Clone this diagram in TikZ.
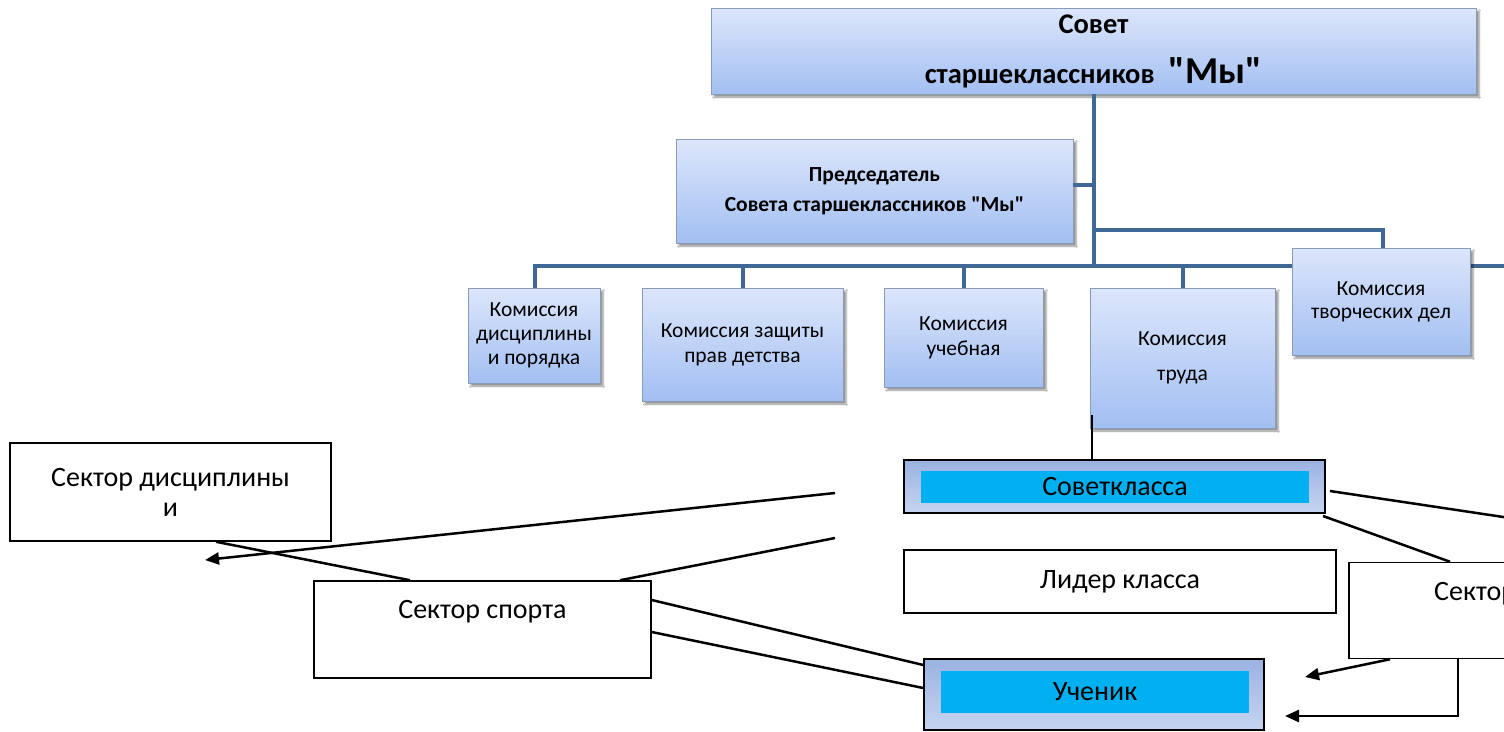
\documentclass[tikz,border=0pt]{standalone}
\usepackage{fontspec}
\setmainfont{Carlito}
\usetikzlibrary{arrows.meta,shadows.blur,calc}
\definecolor{gtop}{HTML}{DCE6FB}
\definecolor{gbot}{HTML}{A2BFF2}
\definecolor{bline}{HTML}{3F6896}
\definecolor{bbord}{HTML}{8A9BB5}
\definecolor{cyanf}{HTML}{00B0F0}
\definecolor{stop}{HTML}{9AB2E2}
\definecolor{sbot}{HTML}{C6D4F0}
\newcommand{\qq}{\textquotedbl}
\tikzset{
  blubox/.style={rectangle, draw=bbord, line width=0.8pt, top color=gtop, bottom color=gbot,
    inner sep=0pt, align=center,
    blur shadow={shadow xshift=3pt, shadow yshift=-3pt, shadow blur steps=4, shadow opacity=45}},
  plainbox/.style={rectangle, draw=black, line width=1.5pt, fill=white, inner sep=0pt, align=center},
  classbox/.style={rectangle, draw=black, line width=1.5pt, top color=stop, bottom color=sbot, inner sep=0pt},
  innerbox/.style={rectangle, fill=cyanf, inner sep=0pt, align=center},
  txt/.style={inner sep=0pt, align=center},
  bus/.style={draw=bline, line width=4pt},
  conn/.style={draw=black, line width=2.5pt},
  arr/.style={conn, -{Triangle[length=14pt,width=12pt]}},
  big/.style={font=\fontsize{28}{30}\selectfont},
  kom/.style={font=\fontsize{21.5}{#1}\selectfont},
}
\begin{document}
\begin{tikzpicture}[x=1pt,y=-1pt]
\clip (0,0) rectangle (1504,731);
\fill[white] (0,0) rectangle (1504,731);

% upper structure
\node[blubox, minimum width=765pt, minimum height=86pt, font=\bfseries\fontsize{28.5}{50}\selectfont]
  (top) at (1093.5,51) {Совет\\старшеклассников\hspace{14pt}{\fontsize{38}{50}\selectfont \qq Мы\qq}};
\node[blubox, minimum width=397pt, minimum height=104pt, font=\bfseries\fontsize{21.5}{30}\selectfont]
  (pred) at (874.5,191) {Председатель\\Совета старшеклассников \qq Мы\qq};
\node[blubox, minimum width=132pt, minimum height=95pt, kom=24] (k1) at (534,335.5) {Комиссия\\дисциплины\\и порядка};
\node[blubox, minimum width=201pt, minimum height=113pt, kom=25] (k2) at (742.5,344.5) {Комиссия защиты\\прав детства};
\node[blubox, minimum width=159pt, minimum height=99pt, kom=25] (k3) at (963.5,337.5) {Комиссия\\учебная};
\node[blubox, minimum width=185pt, minimum height=140pt, kom=35] (k4) at (1182.5,358) {Комиссия\\труда};

\coordinate (bus0) at (535,266);
\coordinate (busE) at (1504,266);
\coordinate (trunk) at (1094,266);
\coordinate (predj) at (1094,185);
\coordinate (brs) at (1094,230);
\coordinate (br) at (1383,230);
\draw[bus] (top.south -| trunk) -- (trunk);
\draw[bus] (pred.east |- predj) -- (predj);
\draw[bus] (bus0 |- k1.north) -- (bus0) -- (busE);
\draw[bus] (k2.north) -- (k2.north |- bus0);
\draw[bus] (k3.north) -- (k3.north |- bus0);
\draw[bus] (k4.north) -- (k4.north |- bus0);
\draw[bus] (brs) -- (br) -- ++(0,18);
\node[blubox, minimum width=178pt, minimum height=107pt, kom=23] (k5) at (1381,301.5) {Комиссия\\творческих дел};

% lower structure
\coordinate (t1) at (1092,415);
\node[classbox, minimum width=421pt, minimum height=53pt] (sovk) at (1114.5,486.5) {};
\node[innerbox, minimum width=388pt, minimum height=32pt, big] (sovkT) at (1115,487) {Советкласса};
\draw[black, line width=1.5pt] (t1) -- (t1 |- sovk.north);

\node[plainbox, minimum width=432pt, minimum height=63pt, big] (lider) at (1120,581.5) {Лидер класса};

\node[classbox, minimum width=340pt, minimum height=71pt] (uchen) at (1094,694.5) {};
\node[innerbox, minimum width=308pt, minimum height=42pt, big] (uchenT) at (1095,692) {Ученик};

\node[plainbox, minimum width=321pt, minimum height=98pt, font=\fontsize{28}{30}\selectfont] (sdisc) at (170.5,492) {Сектор дисциплины\\и};
\node[plainbox, minimum width=337pt, minimum height=97pt] (ssport) at (482.5,629.5) {};
\node[txt, big] (ssportT) at (482.5,612) {Сектор спорта};
\node[plainbox, minimum width=200pt, minimum height=96pt] (sright) at (1449,610.5) {};
\node[txt, big, anchor=west] (srightT) at (1434,594) {Сектор};

% connectors
\coordinate (c1) at (835,493);
\coordinate (c2) at (205,560);
\draw[arr] (c1) -- (c2);
\coordinate (c3) at (835,538);
\coordinate (x620) at (620,0);
\coordinate (x410) at (410,0);
\coordinate (x216) at (216,0);
\draw[conn] (c3) -- (ssport.north -| x620);
\draw[conn] (sdisc.south -| x216) -- (ssport.north -| x410);
\coordinate (y600) at (0,600);
\coordinate (y632) at (0,632);
\coordinate (y665) at (0,665);
\coordinate (y688) at (0,688);
\draw[conn] (ssport.east |- y600) -- (uchen.west |- y665);
\draw[conn] (ssport.east |- y632) -- (uchen.west |- y688);
\coordinate (c4) at (1330,491);
\coordinate (c5) at (1530,521);
\draw[conn] (c4) -- (c5);
\coordinate (c8) at (1323,516);
\coordinate (x1450) at (1450,0);
\draw[conn] (c8) -- (sright.north -| x1450);
\coordinate (c6) at (1305,677);
\coordinate (x1390) at (1390,0);
\coordinate (x1458) at (1458,0);
\draw[arr] (sright.south -| x1390) -- (c6);
\coordinate (c7) at (1285,716);
\draw[arr] (sright.south -| x1458) |- (c7);
\end{tikzpicture}
\end{document}
